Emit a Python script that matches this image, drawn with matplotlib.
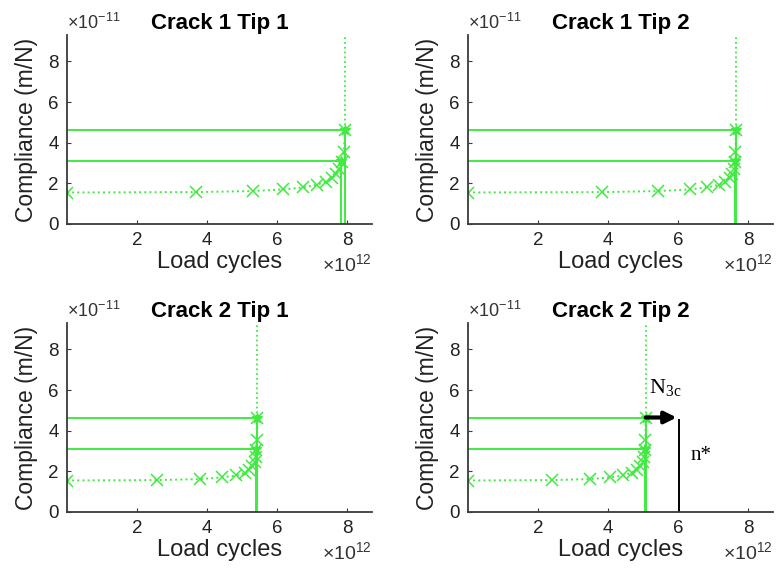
import matplotlib
matplotlib.use("Agg")
import matplotlib.pyplot as plt

plt.rcParams['font.family'] = ['Liberation Sans', 'DejaVu Sans']
plt.rcParams['mathtext.fontset'] = 'custom'
plt.rcParams['mathtext.rm'] = 'Liberation Sans'

titles = ["Crack 1 Tip 1", "Crack 1 Tip 2", "Crack 2 Tip 1", "Crack 2 Tip 2"]

# compliance (x 1e-11 m/N), shared shape
comp_y = [1.55, 1.57, 1.62, 1.70, 1.80, 1.93, 2.08, 2.25, 2.45, 2.72, 3.05, 3.55, 4.65]

# load cycles (x 1e12) per panel
cycles_c1t1 = [0, 3.68, 5.30, 6.17, 6.74, 7.12, 7.38, 7.56, 7.68, 7.77, 7.83, 7.89, 7.94]
cycles_c1t2 = [0, 3.82, 5.42, 6.32, 6.82, 7.15, 7.34, 7.46, 7.54, 7.59, 7.62, 7.63, 7.64]
cycles_c2t1 = [0, 2.58, 3.79, 4.41, 4.83, 5.07, 5.20, 5.29, 5.35, 5.38, 5.40, 5.42, 5.43]
cycles_c2t2 = [0, 2.39, 3.49, 4.06, 4.43, 4.67, 4.82, 4.92, 4.98, 5.02, 5.04, 5.06, 5.07]
cycles_all = [cycles_c1t1, cycles_c1t2, cycles_c2t1, cycles_c2t2]

# threshold compliance levels
c_low = 3.1
c_high = 4.65
# cycles where curve reaches thresholds
n_low = [7.82, 7.62, 5.40, 5.04]
n_high = [7.94, 7.64, 5.43, 5.07]

# annotation for Crack 2 Tip 2
n_star = 6.03

xticks = [2, 4, 6, 8]
yticks = [0, 2, 4, 6, 8]

green = '#40ea40'
spine_c = '#3a3a3a'

W, H = 776, 569
fig = plt.figure(figsize=(W / 100, H / 100), dpi=100)

lefts = [67, 468, 67, 468]
bottoms = [224, 224, 512, 512]
aw, ah = 305, 189

for i in range(4):
    ax = fig.add_axes([lefts[i] / W, (H - bottoms[i]) / H, aw / W, ah / H])
    xs = cycles_all[i]
    ax.set_xlim(0, 8.7)
    ax.set_ylim(0, 9.3)
    # horizontal solid lines
    ax.hlines([c_low, c_high], 0, [n_low[i], n_high[i]], color=green, lw=1.4)
    # vertical solid lines
    ax.vlines([n_low[i], n_high[i]], 0, [c_low, c_high], color=green, lw=1.4)
    # dotted curve with markers
    ax.plot(xs, comp_y, ls=':', marker='x', color=green, lw=1.4, ms=8, mew=1.1)
    ax.vlines(xs[-1], comp_y[-1], 9.5, color=green, lw=1.3, linestyles=':')
    ax.plot([n_low[i], n_high[i]], [c_low, c_high], ls='none', marker='*', color=green, ms=7)

    for s in ['top', 'right']:
        ax.spines[s].set_visible(False)
    for s in ['left', 'bottom']:
        ax.spines[s].set_color(spine_c)
        ax.spines[s].set_linewidth(1.3)
    ax.set_xticks(xticks)
    ax.set_yticks(yticks)
    ax.tick_params(direction='in', length=3, color=spine_c, labelsize=13.5, labelcolor='#222222', pad=6)
    ax.set_xlabel('Load cycles', fontsize=17, color='#222222', labelpad=1)
    ax.set_ylabel('Compliance (m/N)', fontsize=16.5, color='#222222', labelpad=7)
    ax.set_title(titles[i], fontsize=16, fontweight='bold', pad=4)
    ax.text(0.0, 1.008, r'$\times10^{-11}$', transform=ax.transAxes, ha='left', va='bottom',
            fontsize=13, color='#333333')
    ax.text(1.0, -0.215, r'$\times10^{12}$', transform=ax.transAxes, ha='right', va='center',
            fontsize=14, color='#333333')

    if i == 3:
        ax.annotate('', xy=(n_star - 0.08, c_high), xytext=(n_high[i], c_high),
                    arrowprops=dict(arrowstyle='-|>,head_length=0.7,head_width=0.35',
                                    color='black', lw=3, shrinkA=0, shrinkB=0))
        ax.vlines(n_star, 0, c_high - 0.05, color='black', lw=1.4)
        ax.text(5.15, 5.55, r'N$_{\mathregular{3c}}$', fontsize=16,
                family=['Liberation Serif'], ha='left', va='bottom')
        ax.text(6.35, 2.8, 'n*', fontsize=15, family=['Liberation Serif'], ha='left', va='center')

fig.savefig('out.png', dpi=100)
